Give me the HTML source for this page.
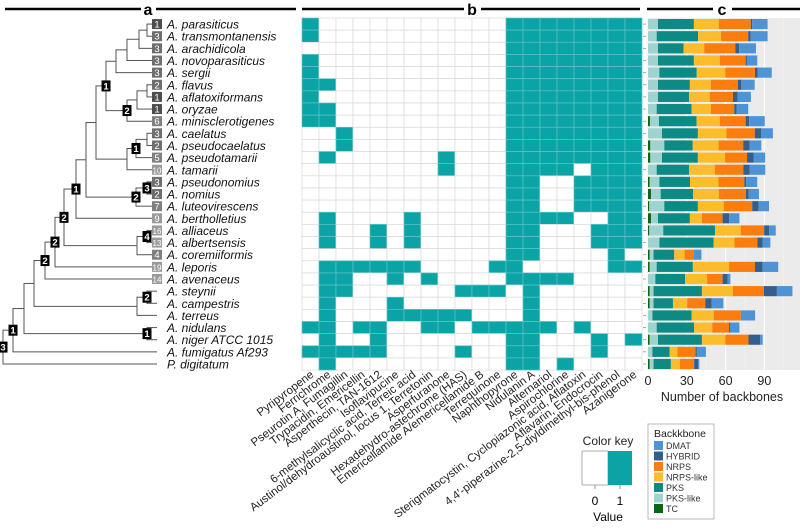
<!DOCTYPE html>
<html><head><meta charset="utf-8">
<style>
html,body{margin:0;padding:0;background:#fff;}
svg{display:block;font-family:"Liberation Sans",Arial,sans-serif;}
</style></head>
<body>
<svg id="fig" width="800" height="532" viewBox="0 0 800 532" xmlns="http://www.w3.org/2000/svg">
  <g stroke="#000" stroke-width="2.5">
    <line x1="5" y1="9" x2="141" y2="9"/><line x1="156" y1="9" x2="296" y2="9"/>
    <line x1="302" y1="9" x2="464" y2="9"/><line x1="481" y1="9" x2="640" y2="9"/>
    <line x1="647" y1="9" x2="713" y2="9"/><line x1="732" y1="9" x2="800" y2="9"/>
  </g>
  <text x="148" y="15" font-size="16" font-weight="bold" text-anchor="middle">a</text>
  <text x="472" y="15" font-size="16" font-weight="bold" text-anchor="middle">b</text>
  <text x="722" y="15" font-size="16" font-weight="bold" text-anchor="middle">c</text>
  <g id="tree"></g>
  <g id="heat"></g>
  <g id="bars"></g>
  <g>
    <text x="608" y="445" font-size="12" text-anchor="middle" fill="#222">Color key</text>
    <rect x="582" y="451" width="26" height="34" fill="#fff" stroke="#999" stroke-width="0.8"/>
    <rect x="608" y="451" width="24" height="34" fill="#0aa3a6"/>
    <line x1="595" y1="485" x2="595" y2="489" stroke="#999"/><line x1="620" y1="485" x2="620" y2="489" stroke="#999"/>
    <text x="595" y="505" font-size="12" text-anchor="middle">0</text>
    <text x="620" y="505" font-size="12" text-anchor="middle">1</text>
    <text x="608" y="521" font-size="12" text-anchor="middle">Value</text>
  </g>
  <g>
    <rect x="648" y="424" width="66" height="95" fill="#fff" stroke="#aaa" stroke-width="0.8"/>
    <text x="654" y="437" font-size="10.5" fill="#222">Backkbone</text>
    <g id="legend"></g>
  </g>
</svg>
<script>
// ---------- data ----------
const species = ["A. parasiticus","A. transmontanensis","A. arachidicola","A. novoparasiticus","A. sergii","A. flavus","A. aflatoxiformans","A. oryzae","A. minisclerotigenes","A. caelatus","A. pseudocaelatus","A. pseudotamarii","A. tamarii","A. pseudonomius","A. nomius","A. luteovirescens","A. bertholletius","A. alliaceus","A. albertsensis","A. coremiiformis","A. leporis","A. avenaceus","A. steynii","A. campestris","A. terreus","A. nidulans","A. niger ATCC 1015","A. fumigatus Af293","P. digitatum"];
const leafCounts = [1,3,3,3,3,2,1,1,6,3,2,5,10,3,2,7,9,16,13,4,19,14,null,null,null,null,null,null,null];
const compounds = ["Pyripyropene","Ferrichrome","Pseurotin A, Fumagillin","Trypacidin, Emericellin","Asperthecin, TAN-1612","Isoflavipucine","6-methylsalicyclic acid, Terreic acid","Austinol/dehydroaustinol, locus 1, Terretonin","Asperfuranone","Hexadehydro-astechrome (HAS)","Emericellamide A/emericellamide B","Terrequinone","Naphthopyrone","Nidulanin A","Alternariol","Aspirochlorine","Sterigmatocystin, Cyclopiazonic acid, Aflatoxin","Aflavarin, Endocrocin","4,4\u2032-piperazine-2,5-diyldimethyl-bis-phenol","Azanigerone"];
// present compounds (column indices) per species
const presence = [
 [0,12,13,14,15,16,17,18,19],[0,12,13,14,15,16,17,18,19],[12,13,14,15,16,17,18,19],
 [0,12,13,14,15,16,17,18,19],[0,12,13,14,15,16,17,18,19],[0,1,12,13,14,15,16,17,18,19],
 [0,12,13,14,15,16,17,18,19],[0,1,12,13,14,15,16,17,18,19],[0,1,12,13,14,15,16,17,18,19],
 [2,12,13,14,15,16,17,18,19],[2,12,13,14,15,16,17,18,19],[1,8,12,13,14,15,16,17,18,19],
 [8,12,13,14,15,17,18,19],[12,13,16,17,18,19],[12,13,16,17,18,19],[12,13,16,17,18,19],
 [1,6,12,13,14,15,18,19],[1,4,6,12,13,17,18,19],[1,4,6,12,13,17,18,19],[12,13,18],
 [1,2,3,4,5,6,11,12,18,19],[1,2,5,7,12,13,14,15],[1,2,9,10,11,13],[1,5,13],[1,5,6,7,8,9,13],
 [0,1,3,4,7,8,10,11,12,13,14,16],[1,4,12,13,17,19],[0,1,2,3,4,9,12,13,17],[1,12,13,15]];
const backbones = ["TC","PKS-like","PKS","NRPS-like","NRPS","HYBRID","DMAT"];
const tcVals      = [0,0,0,0,0,0,0,0,1.5,0,1.8,1.8,0,1.3,2.3,1,2.3,1,0,1.3,1.3,0,1.3,1.3,0,0,1.3,0,1.3];
const pksLikeVals = [7.7,6.7,7.7,7.7,8.8,7.7,7.7,6.7,7,10.8,10.8,9,6.7,7.5,7.5,11.6,5.4,10.8,8.8,3,5.4,5.7,3,3,3.4,6.7,6.4,3.4,3];
const pksVals     = [27.8,32,19.8,27.8,28.9,24.7,24,27,29,27.8,22,27.8,25,23.7,25,26,24.7,40,42,16,28,23,37.4,15,30.4,29,34,13.4,13.4];
const nrpsLikeVals= [19.3,17.8,16,20,22,16.2,16,15,18,22,20,21,20,22,20,20,9.3,20,16,8,28,17,24,11,17,14,18,6,7];
const nrpsVals    = [24.7,21,24,20,23,21,18,18,20,22,19,17,22,20,21,22,16,18,17.8,7,20,12,24,14,21,13,18,14,11];
const hybridVals  = [1,2,3,1,2,2.6,3.6,1.8,2.8,5,5,5,5,1.5,2,5,5,4,4,0,6,4,10,5,0,1,9,1,3];
const dmatVals    = [12,13,13,8,11,10.3,10.3,9,12,9,9,9,12,8.5,8,8,8,5,6,6,12,2,12,9,11,7,2,7,1];
const seriesVals = [tcVals,pksLikeVals,pksVals,nrpsLikeVals,nrpsVals,hybridVals,dmatVals];
const xTicks = [0,30,60,90];
const colors = {"TC":"#0b6612","PKS-like":"#9fd3cf","PKS":"#0e8a85","NRPS-like":"#fbbd2c","NRPS":"#fa7d0e","HYBRID":"#345f8c","DMAT":"#4d93d6"};
// tree: [x, childA, childB, badge]
const n1=[147,0,1],n2=[139,n1,2],n3=[127,n2,3],n4=[116,n3,4],n5=[147,5,6],n6=[137,n5,7],n7=[127,n6,8,'2'],
n8=[106,n4,n7,'1'],n9=[147,9,10],n10=[136,n9,11,'1'],n11=[127,n10,12],n12=[96,n8,n11],n13=[147,13,14,'3'],
n14=[136,n13,15,'2'],n15=[86,n12,n14],n16=[76,n15,16,'1'],n17=[147,17,18,'4'],n18=[137,n17,19],n19=[64,n16,n18,'2'],
n20=[55,n19,20,'2'],n21=[45,n20,21,'2'],n22=[147,22,23,'2'],n23=[137,n22,24],n24=[34,n21,n23],n25=[147,25,26,'1'],
n26=[24,n24,n25],n27=[13,n26,27,'1'],treeRoot=[3,n27,28,'3'];

// ---------- layout ----------
const NS="http://www.w3.org/2000/svg";
function mk(tag,attrs,parent){const e=document.createElementNS(NS,tag);for(const k in attrs)e.setAttribute(k,attrs[k]);parent.appendChild(e);return e;}
const rowTop=18,rowH=12.14;
const rowY=i=>rowTop+rowH*i+rowH/2;
const colX0=302,colW=17;
const xScale=v=>648+v*1.293;

// tree
const tree=document.getElementById('tree');
const badges=[];
function drawNode(n){
  if(typeof n==='number'){return rowY(n);}
  const x=n[0];const ys=[];
  for(const c of [n[1],n[2]]){
    const cy=drawNode(c);
    const cx=(typeof c==='number')?(leafCounts[c]!=null?152:157):c[0];
    const l=mk('line',{x1:x,y1:cy,x2:cx,y2:cy,stroke:'#555','stroke-width':1},tree);
    
    
    ys.push(cy);
  }
  const v=mk('line',{x1:x,y1:ys[0]-0.5,x2:x,y2:ys[1]+0.5,stroke:'#555','stroke-width':1},tree);
  
  
  const y=(ys[0]+ys[1])/2;
  if(n[3])badges.push([x,y,n[3]]);
  return y;
}
drawNode(treeRoot);
badges.forEach(b=>{
  const g=mk('g',{},tree);
  
  
  mk('rect',{x:b[0]-4.5,y:b[1]-5.5,width:9,height:11,fill:'#000'},g);
  mk('text',{x:b[0],y:b[1]+3.5,'font-size':9.5,fill:'#fff','text-anchor':'middle','font-weight':'bold'},g).textContent=b[2];
});
species.forEach((s,i)=>{
  const y=rowY(i);
  if(leafCounts[i]!=null){
    const c=leafCounts[i];
    const g=mk('g',{},tree);
    
    
    const fill=c<=1?'#4d4d4d':c<=3?'#6e6e6e':c<=7?'#808080':'#9a9a9a';
    mk('rect',{x:152,y:y-5,width:10,height:10,fill:fill},g);
    mk('text',{x:157,y:y+3.5,'font-size':c>=10?8:9.5,fill:'#fff','text-anchor':'middle'},g).textContent=c;
  }
  const t=mk('text',{x:167,y:y+4.5,'font-size':12,'font-style':'italic',fill:'#111'},tree);
  
  
  t.textContent=s;
});

// heatmap
const heat=document.getElementById('heat');
species.forEach((s,i)=>{
  compounds.forEach((c,j)=>{
    const on=presence[i].includes(j);
    const r=mk('rect',{x:colX0+j*colW,y:rowTop+i*rowH,width:colW,height:rowH,fill:on?'#0aa3a6':'#fff',stroke:on?'#5fc4c6':'#d9d9d9','stroke-width':0.7},heat);
    
    
  });
});
compounds.forEach((c,j)=>{
  const x=colX0+j*colW+colW/2+4, y=376;
  const t=mk('text',{x:x,y:y,'font-size':11.5,fill:'#222','text-anchor':'end',transform:`rotate(-37 ${x} ${y})`},heat);
  
  
  t.textContent=c;
});

// bars
const bars=document.getElementById('bars');
const bg=mk('rect',{x:647,y:rowTop,width:153,height:rowH*29,fill:'#ebebeb'},bars);


[15,45,75,105].forEach(v=>{mk('line',{x1:xScale(v),y1:rowTop,x2:xScale(v),y2:rowTop+rowH*29,stroke:'#f5f5f5','stroke-width':0.6},bars);});
xTicks.forEach(v=>{
  const gl=mk('line',{x1:xScale(v),y1:rowTop,x2:xScale(v),y2:rowTop+rowH*29,stroke:'#fff','stroke-width':1.2},bars);
  
  
  const t=mk('text',{x:xScale(v),y:385,'font-size':12.5,'text-anchor':'middle',fill:'#222'},bars);
  
  
  t.textContent=v;
});
species.forEach((s,i)=>{
  mk('line',{x1:643,y1:rowY(i),x2:646,y2:rowY(i),stroke:'#777','stroke-width':0.6},bars);
  let acc=0;
  backbones.forEach((b,k)=>{
    const v=seriesVals[k][i];
    if(v>0){
      const r=mk('rect',{x:xScale(acc),y:rowTop+i*rowH+1,width:xScale(acc+v)-xScale(acc),height:rowH-2,fill:colors[b]},bars);
      
      
    }
    acc+=v;
  });
});
const xt=mk('text',{x:722,y:401,'font-size':12.5,'text-anchor':'middle',fill:'#222'},bars);


xt.textContent='Number of backbones';

// legend
const lg=document.getElementById('legend');
const legOrder=["DMAT","HYBRID","NRPS","NRPS-like","PKS","PKS-like","TC"];
legOrder.forEach((b,k)=>{
  const y=441+k*10.5;
  const sw=mk('rect',{x:654,y:y,width:9,height:9,fill:colors[b]},lg);
  
  
  const t=mk('text',{x:666,y:y+8,'font-size':9,fill:'#333'},lg);
  
  
  t.textContent=b;
});
</script>
</body></html>
